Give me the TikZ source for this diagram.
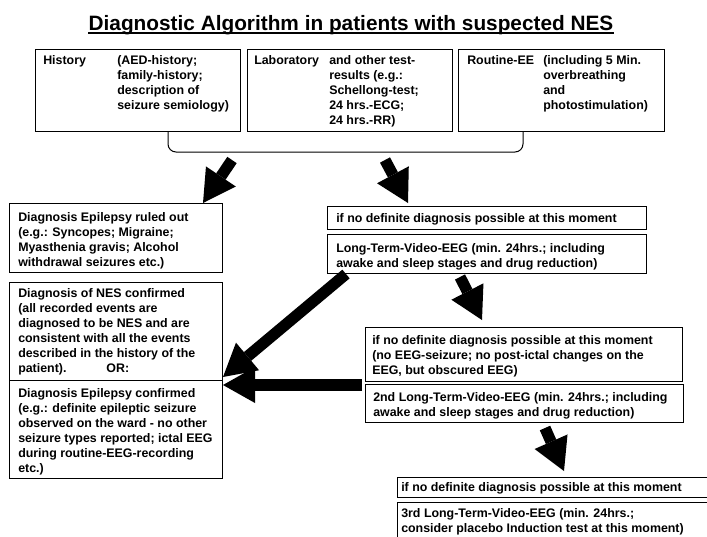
\documentclass[tikz,border=0pt]{standalone}
\usepackage{fontspec}
\setmainfont{Liberation Sans}
\usetikzlibrary{arrows.meta, fit}
\newcommand\boxfont{\fontsize{9.3pt}{11.25pt}\selectfont\bfseries}
\newcommand\headfont{\fontsize{15.6pt}{18pt}\selectfont\bfseries}
\tikzset{
  frame/.style={draw, line width=0.75pt, inner sep=0pt, outer sep=0pt},
  txt/.style={anchor=north west, inner sep=0pt, align=left, font=\boxfont},
  fatarrow/.style={line width=8.5pt, -{Triangle[length=24pt, width=27pt, line width=0pt]}},
}
\begin{document}
\begin{tikzpicture}[x=0.75pt,y=-0.75pt]
\useasboundingbox (0,0) rectangle (707,536);
\clip (0,0) rectangle (707,536);
\node[font=\headfont, anchor=base, inner sep=0pt] (title) at (351,30) {Diagnostic Algorithm in patients with suspected NES};
\draw[line width=1.1pt] ([yshift=-2.3pt]title.base west) -- ([yshift=-2.3pt]title.base east);

\node[frame, fit={(35,49) (240,131)}] (hist) {};
\node[frame, fit={(247,49) (452,131)}] (lab) {};
\node[frame, fit={(458,49) (664,131)}] (eeg) {};
\node[txt] (histA) at ([shift={(8,6.5)}]hist.north west) {History};
\node[txt] (histB) at ([shift={(82,6.5)}]hist.north west) {(AED-history;\\family-history;\\description of\\seizure semiology)};
\node[txt] (labA) at ([shift={(7,6.5)}]lab.north west) {Laboratory};
\node[txt] (labB) at ([shift={(82,6.5)}]lab.north west) {and other test-\\results (e.g.:\\Schellong-test;\\24 hrs.-ECG;\\24 hrs.-RR)};
\node[txt] (eegA) at ([shift={(9,6.5)}]eeg.north west) {Routine-EE};
\node[txt] (eegB) at ([shift={(85,6.5)}]eeg.north west) {(including 5 Min.\\overbreathing\\and\\photostimulation)};
\draw[line width=0.75pt, rounded corners=6pt] ([shift={(133,0)}]hist.south west) -- ++(0,21) -| ([shift={(65,0)}]eeg.south west);

\node[frame, fit={(9,203) (222,272)}] (ruled) {};
\node[txt] (ruledT) at ([shift={(9,9.5)}]ruled.north west) {Diagnosis Epilepsy ruled out\\(e.g.: Syncopes; Migraine;\\Myasthenia gravis; Alcohol\\withdrawal seizures etc.)};
\node[frame, fit={(9,282) (222,380)}] (nes) {};
\node[txt] (nesT) at ([shift={(9,6.5)}]nes.north west) {Diagnosis of NES confirmed\\(all recorded events are\\diagnosed to be NES and are\\consistent with all the events\\described in the history of the\\patient).\hspace{30pt}OR:};
\node[frame, fit={(9,380) (222,478)}] (epi) {};
\node[txt] (epiT) at ([shift={(9,8.5)}]epi.north west) {Diagnosis Epilepsy confirmed\\(e.g.: definite epileptic seizure\\observed on the ward - no other\\seizure types reported; ictal EEG\\during routine-EEG-recording\\etc.)};

\node[frame, fit={(327,206) (646,229)}] (nodefA) {};
\node[txt] (nodefAT) at ([shift={(9,7)}]nodefA.north west) {if no definite diagnosis possible at this moment};
\node[frame, fit={(327,234) (646,273)}] (ltA) {};
\node[txt] (ltAT) at ([shift={(9,9.5)}]ltA.north west) {Long-Term-Video-EEG (min. 24hrs.; including\\awake and sleep stages and drug reduction)};
\node[frame, fit={(365,327) (682,381)}] (nodefB) {};
\node[txt] (nodefBT) at ([shift={(7,8.5)}]nodefB.north west) {if no definite diagnosis possible at this moment\\(no EEG-seizure; no post-ictal changes on the\\EEG, but obscured EEG)};
\node[frame, fit={(365,384) (683,422)}] (ltB) {};
\node[txt] (ltBT) at ([shift={(8,8.5)}]ltB.north west) {2nd Long-Term-Video-EEG (min. 24hrs.; including\\awake and sleep stages and drug reduction)};
\node[frame, fit={(397,477) (720,497)}] (nodefC) {};
\node[txt] (nodefCT) at ([shift={(4,5.5)}]nodefC.north west) {if no definite diagnosis possible at this moment};
\node[frame, fit={(397,502) (720,550)}] (ltC) {};
\node[txt] (ltCT) at ([shift={(4,6.5)}]ltC.north west) {3rd Long-Term-Video-EEG (min. 24hrs.;\\consider placebo Induction test at this moment)};

\coordinate (a1s) at (232,160);
\coordinate (a1e) at (203,203);
\coordinate (a2s) at (385,160);
\coordinate (a2e) at (408,203);
\coordinate (a3s) at (346,274);
\coordinate (a3e) at (223,377);
\coordinate (a4s) at (362,385);
\coordinate (a4e) at (223,385);
\coordinate (a5s) at (460,277);
\coordinate (a5e) at (482,320);
\coordinate (a6s) at (545,428);
\coordinate (a6e) at (564,471);
\draw[fatarrow] (a1s) -- (a1e);
\draw[fatarrow] (a2s) -- (a2e);
\draw[fatarrow] (a3s) -- (a3e);
\draw[fatarrow] (a4s) -- (a4e);
\draw[fatarrow] (a5s) -- (a5e);
\draw[fatarrow] (a6s) -- (a6e);
\end{tikzpicture}
\end{document}
